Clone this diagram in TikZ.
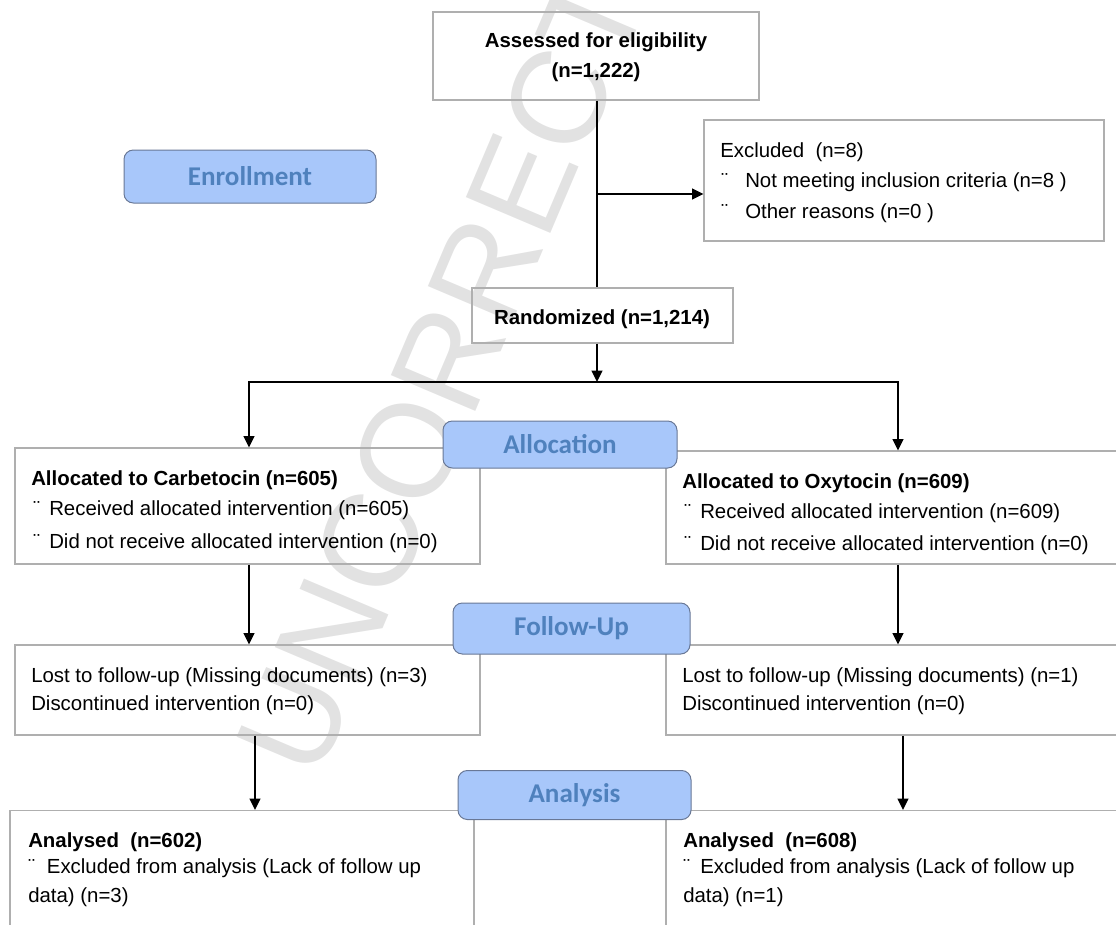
\documentclass[tikz,border=0pt]{standalone}
\usepackage{fontspec}
\setmainfont{Liberation Sans}
\newfontfamily\labelfont{Carlito}
\usetikzlibrary{arrows.meta}
\definecolor{boxgray}{RGB}{175,175,175}
\definecolor{lblfill}{RGB}{168,199,250}
\definecolor{lbledge}{RGB}{105,120,150}
\definecolor{lbltext}{RGB}{79,129,189}
\definecolor{wmgray}{RGB}{226,226,226}
\tikzset{
  bx/.style 2 args={draw=boxgray, line width=0.85pt, inner sep=0pt,
    minimum width=#1*0.75pt, minimum height=#2*0.75pt},
  phase/.style 2 args={draw=lbledge, fill=lblfill, line width=0.75pt,
    rounded corners=7pt, inner sep=0pt, text=lbltext,
    minimum width=#1*0.75pt, minimum height=#2*0.75pt,
    font=\labelfont\bfseries\fontsize{20.3}{24}\selectfont},
  txt/.style={anchor=base west, inner sep=0pt, font=\fontsize{15.3}{18}\selectfont},
  btxt/.style={txt, font=\fontsize{15.3}{18}\selectfont\bfseries},
  ctxt/.style={btxt, anchor=base},
  conn/.style={line width=1.5pt, black},
  arr/.style={conn, -{Triangle[length=8.5pt,width=8pt]}},
}
\newcommand{\bul}[1]{\makebox[#1][l]{¨}}
\begin{document}
\begin{tikzpicture}[x=0.75pt,y=-0.75pt]
\useasboundingbox (0,0) rectangle (1116,924);
\begin{scope}
\clip (0,0) rectangle (1116,924);
% watermark
\node[rotate=67, inner sep=0pt, text=wmgray, font=\fontsize{100}{110}\selectfont] (wm) at (578,52) {UNCORRECTED PROOF};
\end{scope}

% boxes
\node[bx={326}{88}] (assess) at (596,56) {};
\node[bx={400}{121}] (excl) at (904,180.5) {};
\node[bx={261}{55}] (rand) at (602.5,315.5) {};
\node[bx={465}{116}] (carb) at (247.5,506) {};
\node[bx={464}{113}] (oxy) at (898,507.5) {};
\node[bx={465}{90}] (lfu) at (247.5,690) {};
\node[bx={464}{90}] (rfu) at (898,690) {};
\node[bx={464}{129}] (lan) at (242,875) {};
\node[bx={464}{129}] (ran) at (898,875) {};

% texts
\node[ctxt] (t1) at (596,48) {Assessed for eligibility};
\node[ctxt] (t2) at (596,78) {(n=1,222)};
\node[txt] (e1) at (720,157) {Excluded\ \ (n=8)};
\node[txt] (e2) at (721,187) {\bul{18pt}Not meeting inclusion criteria (n=8 )};
\node[txt] (e3) at (721,218) {\bul{18pt}Other reasons (n=0 )};
\node[ctxt] (r1) at (602,324) {Randomized (n=1,214)};

\node[btxt] (c1) at (31,485) {Allocated to Carbetocin (n=605)};
\node[txt] (c2) at (33,515) {\bul{12pt}Received allocated intervention (n=605)};
\node[txt] (c3) at (33,548) {\bul{12pt}Did not receive allocated intervention (n=0)};
\node[btxt] (o1) at (682,488) {Allocated to Oxytocin (n=609)};
\node[txt] (o2) at (684,518) {\bul{12pt}Received allocated intervention (n=609)};
\node[txt] (o3) at (684,550) {\bul{12pt}Did not receive allocated intervention (n=0)};

\node[txt] (f1) at (31,682) {Lost to follow-up (Missing documents) (n=3)};
\node[txt] (f2) at (31,710) {Discontinued intervention (n=0)};
\node[txt] (g1) at (682,682) {Lost to follow-up (Missing documents) (n=1)};
\node[txt] (g2) at (682,710) {Discontinued intervention (n=0)};

\node[btxt] (a1) at (28,847) {Analysed\ \ (n=602)};
\node[txt] (a2) at (28,873) {\bul{14pt}Excluded from analysis (Lack of follow up};
\node[txt] (a3) at (28,902) {data) (n=3)};
\node[btxt] (b1) at (683,847) {Analysed\ \ (n=608)};
\node[txt] (b2) at (683,873) {\bul{12.75pt}Excluded from analysis (Lack of follow up};
\node[txt] (b3) at (683,902) {data) (n=1)};

% connectors
\coordinate (xM) at (597,0);
\coordinate (xL1) at (249,0);
\coordinate (xL2) at (255,0);
\coordinate (xR1) at (898,0);
\coordinate (xR2) at (903,0);
\coordinate (brk) at (597,194);
\coordinate (split) at (597,382);
\draw[conn] (assess.south -| xM) -- (rand.north -| xM);
\draw[arr] (brk) -- (brk -| excl.west);
\draw[arr] (rand.south -| xM) -- (split);
\draw[arr] (split) -| (carb.north -| xL1);
\draw[arr] (split) -| (oxy.north -| xR1);
\draw[arr] (carb.south -| xL1) -- (lfu.north -| xL1);
\draw[arr] (oxy.south -| xR1) -- (rfu.north -| xR1);
\draw[arr] (lfu.south -| xL2) -- (lan.north -| xL2);
\draw[arr] (rfu.south -| xR2) -- (ran.north -| xR2);

% phase labels
\node[phase={252}{53}] (enroll) at (250,176.5) {Enrollment};
\node[phase={234}{47}] (alloc) at (560,444.5) {Allocation};
\node[phase={237}{51}] (fu) at (571.5,628.5) {Follow-Up};
\node[phase={233}{49}] (anal) at (574.5,795) {Analysis};
\end{tikzpicture}
\end{document}
